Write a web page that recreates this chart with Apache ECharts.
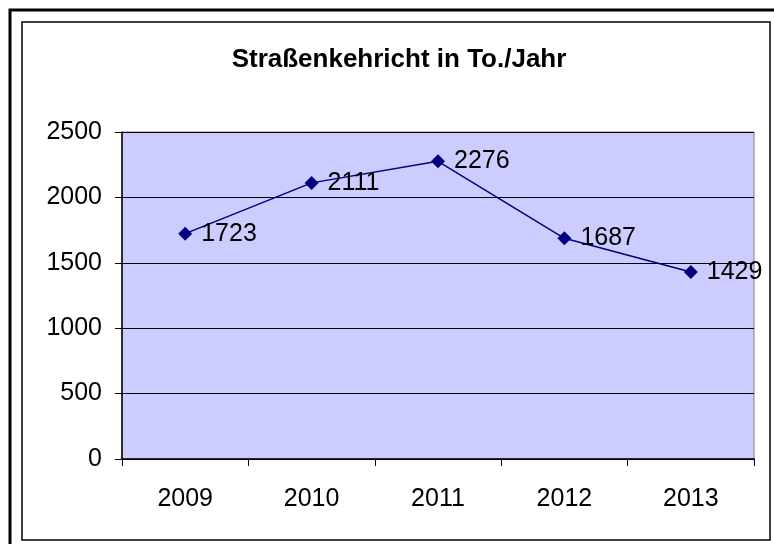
<!DOCTYPE html>
<html>
<head>
<meta charset="utf-8">
<script src="https://cdn.jsdelivr.net/npm/echarts@6/dist/echarts.min.js"></script>
<style>
  html, body { margin: 0; padding: 0; background: #fff; }
  #chart { width: 774px; height: 544px; }
</style>
</head>
<body>
<div id="chart"></div>
<script>
const years = ['2009', '2010', '2011', '2012', '2013'];
const tonnes = [1723, 2111, 2276, 1687, 1429];
const chartTitle = 'Straßenkehricht in To./Jahr';

const font = '"Liberation Sans", Arial, sans-serif';
const chart = echarts.init(document.getElementById('chart'));

chart.setOption({
  backgroundColor: '#fff',
  animation: false,
  title: {
    text: chartTitle,
    left: 394,
    top: 42,
    textAlign: 'center',
    textStyle: { fontFamily: font, fontSize: 26, fontWeight: 'bold', color: '#000' }
  },
  grid: {
    left: 122,
    right: 20,
    top: 132,
    bottom: 85,
    show: true,
    backgroundColor: '#ccccff',
    borderColor: '#808080',
    borderWidth: 1
  },
  xAxis: {
    type: 'category',
    data: years,
    boundaryGap: true,
    axisLine: { lineStyle: { color: '#000', width: 1.5 } },
    axisTick: { show: true, inside: false, length: 7, lineStyle: { color: '#000' } },
    axisLabel: { color: '#000', fontFamily: font, fontSize: 25, margin: 28 },
    splitLine: { show: false }
  },
  yAxis: {
    type: 'value',
    min: 0,
    max: 2500,
    interval: 500,
    axisLine: { show: true, lineStyle: { color: '#000', width: 1.5 } },
    axisTick: { show: true, inside: false, length: 7, lineStyle: { color: '#000' } },
    axisLabel: { color: '#000', fontFamily: font, fontSize: 25, margin: 20, formatter: v => String(v) },
    splitLine: { show: true, lineStyle: { color: '#000', width: 1 } }
  },
  series: [{
    type: 'line',
    data: tonnes,
    symbol: 'diamond',
    symbolSize: 14,
    color: '#000080',
    lineStyle: { color: '#000080', width: 1.5 },
    label: {
      show: true,
      position: 'right',
      distance: 9,
      color: '#000',
      fontFamily: font,
      fontSize: 25
    }
  }],
  graphic: [
    {
      type: 'rect',
      shape: { x: 10, y: 10, width: 800, height: 600 },
      style: { fill: 'none', stroke: '#000', lineWidth: 3 },
      silent: true
    },
    {
      type: 'rect',
      shape: { x: 22, y: 22, width: 748, height: 518 },
      style: { fill: 'none', stroke: '#000', lineWidth: 1.5 },
      silent: true
    }
  ]
});
</script>
</body>
</html>
